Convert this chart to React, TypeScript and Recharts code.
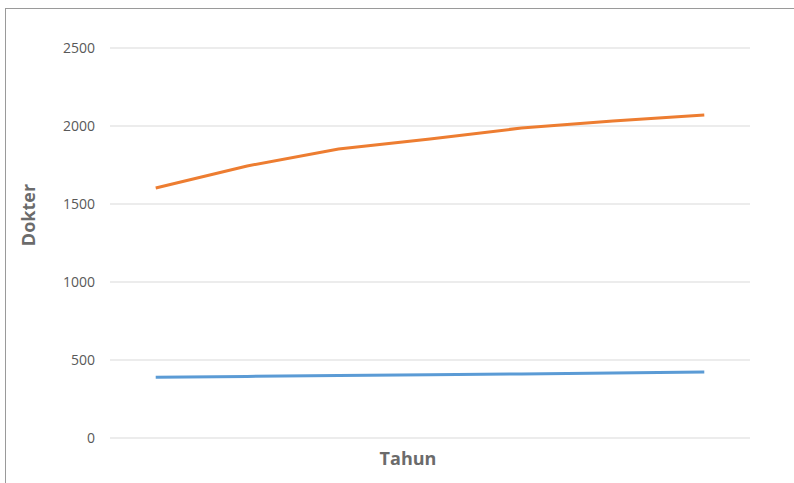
import React from "react";
import { LineChart, Line, XAxis, YAxis, CartesianGrid } from "recharts";

const years = ["2015", "2016", "2017", "2018", "2019", "2020", "2021"];
const seriesA = [389, 395, 400, 405, 411, 417, 423];
const seriesB = [1603, 1744, 1853, 1917, 1987, 2032, 2071];
const yTicks = [0, 500, 1000, 1500, 2000, 2500];

const data = years.map((y, i) => ({ year: y, a: seriesA[i], b: seriesB[i] }));

const YLabel = () => (
  <text
    x={28}
    y={215}
    transform="rotate(-90 28 215)"
    textAnchor="middle"
    dominantBaseline="central"
    fontFamily="'Open Sans', sans-serif"
    fontWeight={700}
    fontSize={18}
    fill="#6b6b6b"
  >
    Dokter
  </text>
);

const XLabel = () => (
  <text
    x={408}
    y={458}
    textAnchor="middle"
    dominantBaseline="central"
    fontFamily="'Open Sans', sans-serif"
    fontWeight={700}
    fontSize={18}
    fill="#6b6b6b"
  >
    Tahun
  </text>
);

export default function App() {
  return (
    <div
      style={{
        position: "absolute",
        left: 0,
        top: 0,
        width: 794,
        height: 483,
        overflow: "hidden",
        background: "#fff",
      }}
    >
      <div
        style={{
          position: "absolute",
          left: 5,
          top: 8,
          width: 900,
          height: 600,
          borderLeft: "1.5px solid #9a9a9a",
          borderTop: "1.5px solid #9a9a9a",
        }}
      />
      <div style={{ position: "absolute", left: 0, top: 0 }}>
        <LineChart
          width={794}
          height={483}
          data={data}
          margin={{ top: 48, right: 44, bottom: 45, left: 50 }}
        >
          <CartesianGrid vertical={false} stroke="#d9d9d9" strokeWidth={1} />
          <XAxis dataKey="year" hide scale="band" />
          <YAxis
            width={60}
            domain={[0, 2500]}
            ticks={yTicks}
            axisLine={false}
            tickLine={false}
            tickSize={0}
            tickMargin={15}
            tick={{ fill: "#595959", fontSize: 14, fontFamily: "'Open Sans', sans-serif" }}
            label={{ content: () => <YLabel /> }}
          />
          <Line
            type="linear"
            dataKey="a"
            name="Seri 1"
            stroke="#5B9BD5"
            strokeWidth={3}
            dot={false}
            isAnimationActive={false}
          />
          <Line
            type="linear"
            dataKey="b"
            name="Seri 2"
            stroke="#ED7D31"
            strokeWidth={3}
            dot={false}
            isAnimationActive={false}
          />
          <XLabel />
        </LineChart>
      </div>
    </div>
  );
}
